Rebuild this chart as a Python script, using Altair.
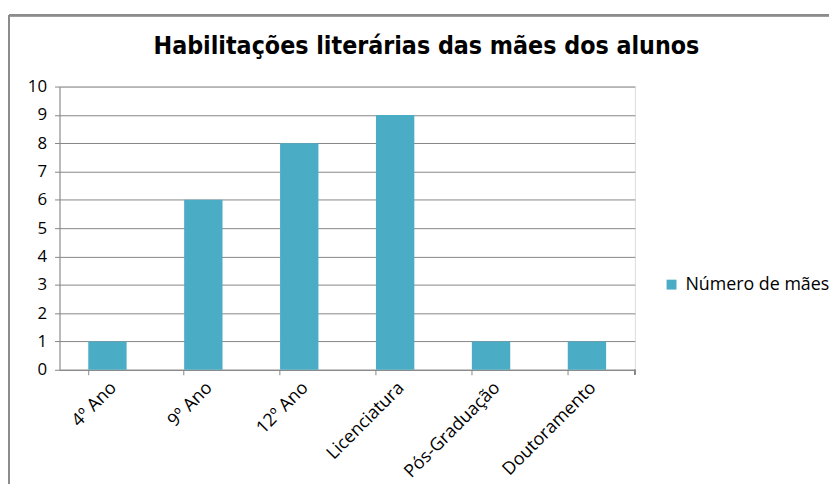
import altair as alt
import pandas as pd

categories = ["4º Ano", "9º Ano", "12º Ano", "Licenciatura", "Pós-Graduação", "Doutoramento"]
values = [1, 6, 8, 9, 1, 1]
series_name = "Número de mães"
y_ticks = list(range(0, 11))

df = pd.DataFrame({"cat": categories, "val": values, "serie": [series_name] * len(categories)})

W, H = 581, 286
GRID = "#868686"

bars = alt.Chart(df).mark_bar(color="#4BACC6").encode(
    x=alt.X("cat:N", sort=categories, title=None,
            scale=alt.Scale(paddingInner=0.6, paddingOuter=0.3),
            axis=alt.Axis(labelAngle=-45, labelFontSize=18, labelFont="Open Sans",
                          labelColor="#000000", domainColor=GRID, tickColor=GRID,
                          tickSize=5, bandPosition=0, labelPadding=4, grid=False)),
    y=alt.Y("val:Q", title=None,
            scale=alt.Scale(domain=[0, 10], nice=False),
            axis=alt.Axis(values=y_ticks, labelFontSize=17, labelFont="Open Sans",
                          labelColor="#000000", domainColor=GRID, tickColor=GRID,
                          tickSize=5, labelPadding=8, gridColor=GRID, gridOpacity=1)),
    fill=alt.Fill("serie:N", scale=alt.Scale(range=["#4BACC6"]),
                  legend=alt.Legend(title=None, orient="none", legendX=609, legendY=191,
                                    symbolType="square", symbolSize=100, labelFontSize=18,
                                    labelFont="Open Sans", labelColor="#000000",
                                    symbolStrokeWidth=0, labelOffset=5)),
)

end_tick = alt.Chart(df).mark_rule(color=GRID).encode(
    x=alt.value(W), y=alt.value(H), y2=alt.value(H + 5)
)

frame_top = alt.Chart(df).mark_rule(color="#8c8c8c", strokeWidth=2, clip=False).encode(
    x=alt.value(-51), x2=alt.value(900), y=alt.value(-72)
)
frame_left = alt.Chart(df).mark_rule(color="#8c8c8c", strokeWidth=2, clip=False).encode(
    x=alt.value(-51), y=alt.value(-72), y2=alt.value(600)
)

chart = alt.layer(bars, end_tick, frame_top, frame_left).properties(
    width=W, height=H,
    title=alt.Title("Habilitações literárias das mães dos alunos", fontSize=25,
                    font="DejaVu Sans Condensed", fontWeight="bold", color="#000000",
                    anchor="middle", dx=80, offset=0, dy=65, baseline="alphabetic"),
    autosize=alt.AutoSizeParams(type="none"),
    padding={"left": 52, "top": 77, "right": 196, "bottom": 113},
).configure_view(stroke=None).configure(background="#ffffff")

chart.save("out.html", embed_options={"renderer": "svg", "actions": False})
